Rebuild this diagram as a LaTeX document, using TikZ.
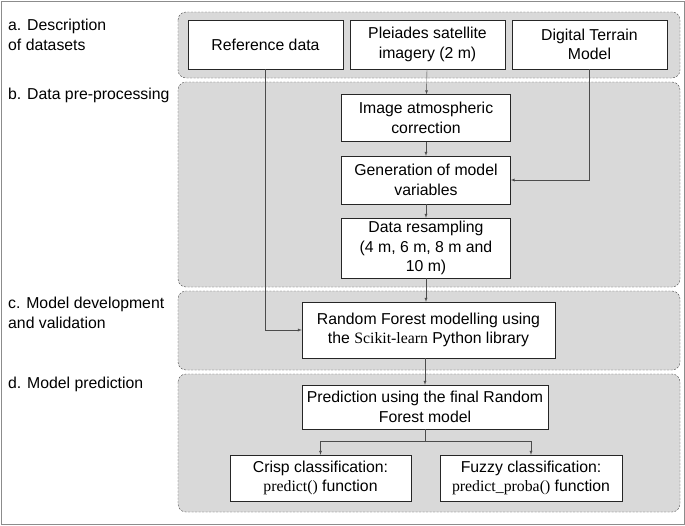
\documentclass[tikz,border=0pt]{standalone}
\usepackage{fontspec}
\setmainfont{Liberation Sans}
\newfontfamily\codefont{Liberation Serif}
\usetikzlibrary{positioning}

\begin{document}
\begin{tikzpicture}[
                        x=1pt, y=-1pt,
                        >=latex,
                        font=\fontsize{15.8}{19.5}\selectfont,
                        panel/.style={draw=black!70, dash pattern=on 2pt off 1.5pt, fill=black!15, rounded corners=8pt},
                        block/.style={rectangle, draw=black!85, fill=white, align=center, inner sep=2pt},
                        stage/.style={anchor=north west, align=left, inner sep=0pt},
                        link/.style={->, draw=black!70}
                    ]
                    % Frame
                    \useasboundingbox (0,0) rectangle (685,525);
                    \draw [black!45] (1,1) rectangle (684,524);

                    % Panels
                    \draw [panel] (178,12) rectangle (680,78);
                    \draw [panel] (178,82) rectangle (680,287);
                    \draw [panel] (178,291) rectangle (680,370);
                    \draw [panel] (178,374) rectangle (680,512);

                    % Stage labels
                    \node [stage] (la) at (8,19) {a. Description\\of datasets};
                    \node [stage] (lb) at (8,88) {b. Data pre-processing};
                    \node [stage] (lc) at (8,297) {c. Model development\\and validation};
                    \node [stage] (ld) at (8,377) {d. Model prediction};

                    % Blocks
                    \node [block, minimum width=155pt, minimum height=49pt] (ref) at (265.5,44.5) {Reference data};
                    \node [block, minimum width=155pt, minimum height=49pt] (pleiades) at (427.5,44.5) {Pleiades satellite\\imagery (2 m)};
                    \node [block, minimum width=155pt, minimum height=49pt] (dtm) at (589.5,44.5) {Digital Terrain\\Model};
                    \node [block, minimum width=169pt, minimum height=47pt] (atm) at (426,118) {Image atmospheric\\correction};
                    \node [block, minimum width=169pt, minimum height=48pt] (gen) at (426,180) {Generation of model\\variables};
                    \node [block, minimum width=169pt, minimum height=60pt] (resamp) at (426,248) {Data resampling\\(4 m, 6 m, 8 m and\\10 m)};
                    \node [block, minimum width=253pt, minimum height=56pt] (rf) at (428.5,330) {Random Forest modelling using\\the {\codefont Scikit-learn} Python library};
                    \node [block, minimum width=246pt, minimum height=44pt] (pred) at (425,407) {Prediction using the final Random\\Forest model};
                    \node [block, minimum width=181pt, minimum height=46pt] (crisp) at (320.5,478) {Crisp classification:\\{\codefont predict()} function};
                    \node [block, minimum width=182pt, minimum height=46pt] (fuzzy) at (531,478) {Fuzzy classification:\\{\codefont predict\_proba()} function};
                    \coordinate (split) at (425,441);

                    % Connections
                    \draw [link] (pleiades) -- (atm);
                    \draw [link] (atm) -- (gen);
                    \draw [link] (gen) -- (resamp);
                    \draw [link] (dtm.south) |- (gen.east);
                    \draw [link] (resamp.south) -- (resamp.south |- rf.north);
                    \draw [link] (ref.south) |- (rf.west);
                    \draw [link] (rf.south -| pred.north) -- (pred.north);
                    \draw [black!70] (pred.south) -- (split);
                    \draw [link] (split) -| (crisp.north);
                    \draw [link] (split) -| (fuzzy.north);
                \end{tikzpicture}
\end{document}
